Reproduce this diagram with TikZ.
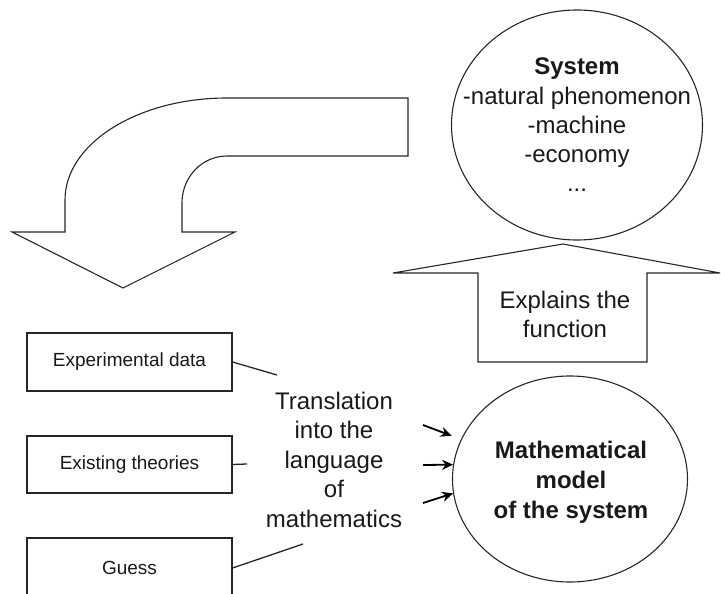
\documentclass[tikz,border=0pt]{standalone}
\usepackage{fontspec}
\setmainfont{Liberation Sans}
\usetikzlibrary{shapes.geometric,arrows.meta}
\begin{document}
\begin{tikzpicture}[x=1pt,y=-1pt,
  shape line/.style={draw=black!85,line width=1.1pt,line join=miter},
  oval/.style={ellipse,draw=black!85,line width=1.1pt,inner sep=0pt,align=center,text=black!90},
  srcbox/.style={rectangle,draw=black!85,line width=1.1pt,minimum width=205pt,inner sep=0pt,text=black!90,font=\fontsize{19}{23}\selectfont},
  link/.style={draw=black!85,line width=1.3pt},
  ptr/.style={draw=black,line width=1.8pt,-{Stealth[length=11pt,width=10pt]}},
  bigtext/.style={align=center,inner sep=0pt,text=black!90}]
\useasboundingbox (0,0) rectangle (721,594);
\clip (0,0) rectangle (721,594);

% curved arrow
\draw[shape line] (408,98) -- (227,98) .. controls (137.5,98) and (65,143.7) .. (65,200) -- (65,232) -- (12,232) -- (123,288) -- (235,232) -- (182,232) -- (182,203) .. controls (182,177) and (202,156) .. (227,156) -- (408,156) -- cycle;

% up arrow
\draw[shape line] (478,362) -- (478,273) -- (393,273) -- (563,244) -- (720,273) -- (647,273) -- (647,362) -- cycle;
\node[bigtext,font=\fontsize{24}{29}\selectfont] (explain) at (565,314) {Explains the\\function};

\node[oval,minimum width=251pt,minimum height=230pt] (sys) at (577,125) {};
\node[bigtext,font=\fontsize{24}{29.3}\selectfont] (systxt) at (sys.center) {\textbf{System}\\-natural phenomenon\\-machine\\-economy\\...};

\node[oval,minimum width=235pt,minimum height=206pt] (model) at (570,479) {};
\node[bigtext,font=\fontsize{24}{30}\selectfont\bfseries] (modeltxt) at (571,482) {Mathematical\\model\\of the system};

\node[srcbox,minimum height=58pt] (exp) at (129.5,362) {Experimental data};
\node[srcbox,minimum height=57pt] (theo) at (129.5,464.5) {Existing theories};
\node[srcbox,minimum height=60pt] (guess) at (129.5,568) {Guess};

\node[bigtext,font=\fontsize{24}{29.5}\selectfont] (transl) at (334,459.5) {Translation\\into the\\language\\of\\mathematics};

\coordinate (e1) at (277,375);
\coordinate (e2) at (247,464);
\coordinate (e3) at (303,544);
\draw[link] (exp.east) -- (e1);
\draw[link] (theo.east) -- (e2);
\draw[link] (guess.east) -- (e3);

\coordinate (p1) at (423,425);
\coordinate (p2) at (423,465);
\coordinate (p3) at (423,503);
\draw[ptr,shorten >=10pt] (p1) -- (model.160);
\draw[ptr] (p2) -- (model.173);
\draw[ptr] (p3) -- (model.187);
\end{tikzpicture}
\end{document}
